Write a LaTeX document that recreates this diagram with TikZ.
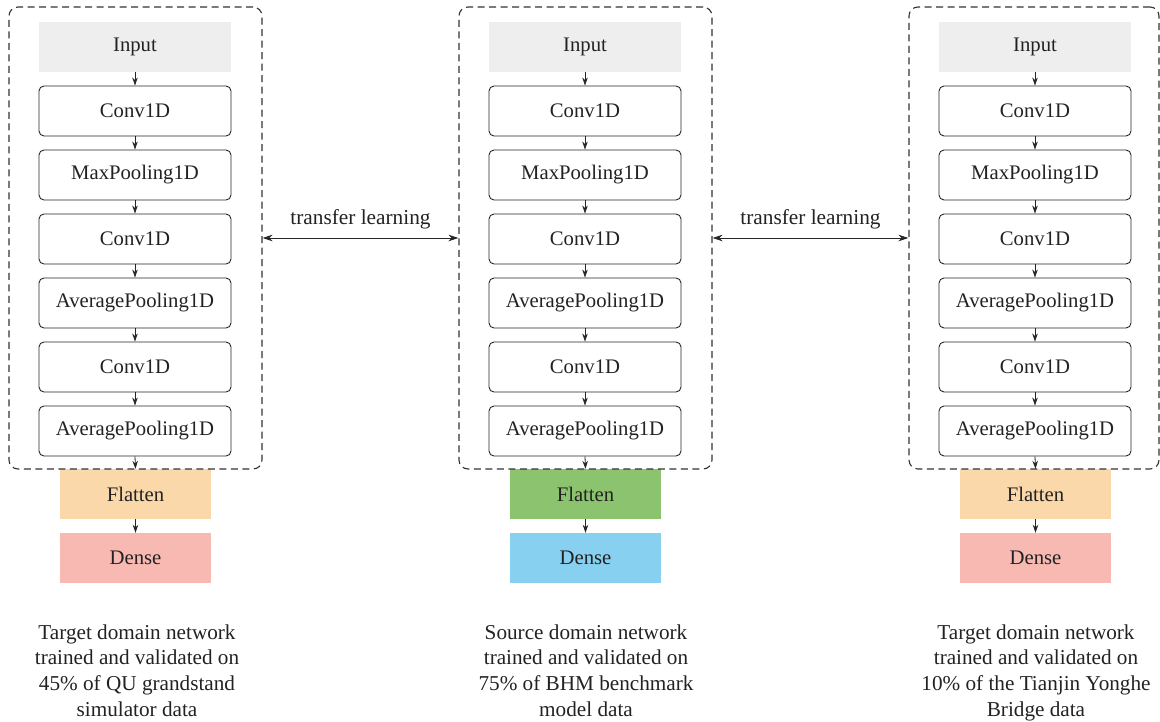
\documentclass[tikz,border=0pt]{standalone}
\usepackage{fontspec}
\setmainfont{Liberation Serif}
\usetikzlibrary{arrows.meta}
\definecolor{txt}{HTML}{222222}
\definecolor{inGray}{HTML}{EEEEEE}
\definecolor{flatO}{HTML}{FBD8A9}
\definecolor{denseP}{HTML}{F7B9B2}
\definecolor{flatG}{HTML}{8CC36E}
\definecolor{denseB}{HTML}{88D0EF}
\tikzset{
  base/.style={minimum width=192pt, minimum height=50pt, inner sep=0pt, text=txt,
    font=\fontsize{20.7}{24}\selectfont},
  layer/.style={base, draw=black!85, line width=0.9pt, rounded corners=5pt},
  inbox/.style={base, fill=inGray},
  headbox/.style={base, minimum width=151pt},
  dbox/.style={draw=black!80, dashed, dash pattern=on 7pt off 4.5pt, line width=1.1pt,
    rounded corners=9pt, minimum width=253pt, minimum height=462pt, inner sep=0pt},
  arr/.style={-{Stealth[length=8pt,width=5.5pt]}, line width=0.8pt, black!85},
  darr/.style={{Stealth[length=10pt,width=6.5pt]}-{Stealth[length=10pt,width=6.5pt]}, line width=1pt, black!85},
  caption/.style={align=center, text=txt, font=\fontsize{21.2}{25.6}\selectfont},
  tl/.style={text=txt, font=\fontsize{21.3}{24}\selectfont},
}
\begin{document}
\begin{tikzpicture}[x=1pt,y=-1pt]
\useasboundingbox (0,0) rectangle (1160,721);
\foreach \p/\dx/\fc/\dc in {L/0/flatO/denseP, M/450/flatG/denseB, R/900/flatO/denseP}{
  \node[inbox] (\p0) at (135+\dx,47) {Input};
  \foreach \k/\t in {1/Conv1D,2/MaxPooling1D,3/Conv1D,4/AveragePooling1D,5/Conv1D,6/AveragePooling1D}{
    \node[layer] (\p\k) at (135+\dx,47+64*\k) {\t};
  }
  \node[headbox, fill=\fc] (\p F) at (135.5+\dx,494) {Flatten};
  \node[headbox, fill=\dc] (\p D) at (135.5+\dx,558) {Dense};
  \foreach \k in {1,...,6}{
    \pgfmathtruncatemacro{\km}{\k-1}
    \draw[arr] (\p\km.south) -- (\p\k.north);
  }
  \draw[arr] (\p6.south) -- (\p F.north);
  \draw[arr] (\p F.south) -- (\p D.north);
}
\node[dbox] (Lbox) at (135.5,238) {};
\node[dbox] (Mbox) at (585.5,238) {};
\node[dbox, minimum width=250pt] (Rbox) at (1034,238) {};
\draw[darr] (Lbox.east) -- (Mbox.west) node[midway, above=5pt, tl] (t1) {transfer learning};
\draw[darr] (Mbox.east) -- (Rbox.west) node[midway, above=5pt, tl] (t2) {transfer learning};
\node[caption] (cL) at (137,672.5) {\strut Target domain network\\trained and validated on\\45\% of QU grandstand\\simulator data\strut};
\node[caption] (cM) at (586,672.5) {\strut Source domain network\\trained and validated on\\75\% of BHM benchmark\\model data\strut};
\node[caption] (cR) at (1036,672.5) {\strut Target domain network\\trained and validated on\\10\% of the Tianjin Yonghe\\Bridge data\strut};
\end{tikzpicture}
\end{document}
